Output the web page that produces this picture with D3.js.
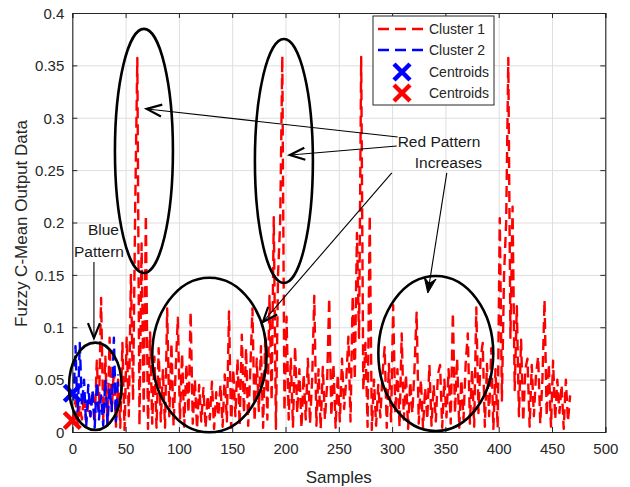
<!DOCTYPE html>
<html>
<head>
<meta charset="utf-8">
<script src="https://cdn.jsdelivr.net/npm/d3@7/dist/d3.min.js"></script>
<style>
  html, body { margin: 0; padding: 0; background: #fff; }
  svg { display: block; font-family: "Liberation Sans", Arial, Helvetica, sans-serif; }
</style>
</head>
<body>
<svg id="chart" width="630" height="487"></svg>
<script>
// Outputs are recorded on every second sample, starting at sample 1
const sampleStep = 2;

// Fuzzy C-Mean output, cluster 1 (samples 1, 3, ..., 467)
const cluster1 = [
  0.010, 0.030, 0.008, 0.025, 0.012, 0.035, 0.010, 0.028, 0.015, 0.040,
  0.008, 0.068, 0.020, 0.128, 0.012, 0.072, 0.006, 0.090, 0.020, 0.060,
  0.005, 0.050, 0.004, 0.085, 0.002, 0.090, 0.015, 0.150, 0.030, 0.215,
  0.357, 0.006, 0.180, 0.020, 0.207, 0.003, 0.095, 0.008, 0.072, 0.004,
  0.080, 0.010, 0.060, 0.004, 0.118, 0.015, 0.085, 0.006, 0.060, 0.109,
  0.012, 0.075, 0.005, 0.065, 0.018, 0.115, 0.008, 0.050, 0.003, 0.045,
  0.010, 0.042, 0.004, 0.035, 0.012, 0.048, 0.003, 0.038, 0.015, 0.045,
  0.005, 0.055, 0.010, 0.115, 0.004, 0.060, 0.015, 0.070, 0.006, 0.093,
  0.018, 0.080, 0.006, 0.060, 0.118, 0.010, 0.070, 0.020, 0.082, 0.004,
  0.090, 0.012, 0.130, 0.030, 0.205, 0.003, 0.150, 0.200, 0.359, 0.020,
  0.110, 0.012, 0.070, 0.005, 0.082, 0.018, 0.060, 0.004, 0.055, 0.012,
  0.070, 0.008, 0.050, 0.130, 0.006, 0.060, 0.003, 0.062, 0.012, 0.045,
  0.128, 0.015, 0.065, 0.004, 0.055, 0.010, 0.070, 0.022, 0.050, 0.091,
  0.010, 0.130, 0.050, 0.190, 0.090, 0.358, 0.040, 0.085, 0.005, 0.207,
  0.002, 0.050, 0.006, 0.045, 0.014, 0.055, 0.081, 0.004, 0.065, 0.010,
  0.121, 0.018, 0.060, 0.005, 0.094, 0.012, 0.055, 0.003, 0.048, 0.018,
  0.060, 0.114, 0.008, 0.050, 0.004, 0.042, 0.012, 0.064, 0.006, 0.045,
  0.010, 0.055, 0.064, 0.004, 0.050, 0.014, 0.060, 0.008, 0.114, 0.018,
  0.070, 0.004, 0.050, 0.012, 0.065, 0.094, 0.008, 0.060, 0.005, 0.119,
  0.018, 0.070, 0.085, 0.005, 0.065, 0.015, 0.080, 0.003, 0.060, 0.004,
  0.204, 0.030, 0.150, 0.200, 0.357, 0.090, 0.215, 0.040, 0.120, 0.015,
  0.088, 0.010, 0.060, 0.070, 0.005, 0.064, 0.015, 0.055, 0.072, 0.008,
  0.050, 0.126, 0.015, 0.065, 0.005, 0.068, 0.012, 0.050, 0.018, 0.045,
  0.003, 0.050, 0.010, 0.035
];

// Fuzzy C-Mean output, cluster 2 (samples 1, 3, ..., 43)
const cluster2 = [
  0.030, 0.082, 0.012, 0.085, 0.025, 0.050, 0.005, 0.045, 0.015, 0.040,
  0.004, 0.048, 0.012, 0.035, 0.006, 0.050, 0.008, 0.042, 0.020, 0.090,
  0.010, 0.055
];

// Cluster centroids [sample, value]
const centroid1 = [0, 0.011];
const centroid2 = [0, 0.037];

// Axis ticks and labels
const xTicks = [0, 50, 100, 150, 200, 250, 300, 350, 400, 450, 500];
const xTickLabels = ["0", "50", "100", "150", "200", "250", "300", "350", "400", "450", "500"];
const yTicks = [0, 0.05, 0.1, 0.15, 0.2, 0.25, 0.3, 0.35, 0.4];
const yTickLabels = ["0", "0.05", "0.1", "0.15", "0.2", "0.25", "0.3", "0.35", "0.4"];

const legendNames = ["Cluster 1", "Cluster 2", "Centroids", "Centroids"];

// Annotation shapes in data units
const ellipses = [
  { cx: 67.2, cy: 0.2683, rx: 27.2, ry: 0.1165 },
  { cx: 198.5, cy: 0.2587, rx: 27.2, ry: 0.1165 },
  { cx: 128.6, cy: 0.0735, rx: 53.6, ry: 0.0738 },
  { cx: 341.0, cy: 0.0749, rx: 53.9, ry: 0.0740 },
  { cx: 21.6, cy: 0.0436, rx: 24.7, ry: 0.0417 }
];
const arrows = [
  { x1: 305.2, y1: 0.2816, x2: 69.8, y2: 0.3084, filled: false },
  { x1: 304.4, y1: 0.2730, x2: 204.1, y2: 0.2644, filled: false },
  { x1: 299.7, y1: 0.2473, x2: 178.8, y2: 0.1050, filled: false },
  { x1: 351.3, y1: 0.2473, x2: 333.5, y2: 0.1327, filled: true },
  { x1: 20.3, y1: 0.1623, x2: 20.3, y2: 0.0897, filled: false }
];
const notes = [
  { text: "Red Pattern", x: 305.2, y: 0.2721 },
  { text: "Increases", x: 321.3, y: 0.2520 },
  { text: "Blue", x: 14.7, y: 0.1881 },
  { text: "Pattern", x: 1.6, y: 0.1671 }
];

const svg = d3.select("#chart");
const plotL = 72.3, plotR = 605.3, plotT = 13, plotB = 432;
const x = d3.scaleLinear().domain([0, 500]).range([plotL, plotR]);
const y = d3.scaleLinear().domain([0, 0.4]).range([plotB, plotT]);
const axisColor = "#262626";

svg.append("rect").attr("width", 630).attr("height", 487).attr("fill", "#fff");

// grid
const grid = svg.append("g").attr("class", "grid");
grid.append("g").attr("transform", `translate(0,${plotB})`)
  .call(d3.axisBottom(x).tickValues(xTicks).tickSize(-(plotB - plotT)).tickFormat(""));
grid.append("g").attr("transform", `translate(${plotL},0)`)
  .call(d3.axisLeft(y).tickValues(yTicks).tickSize(-(plotR - plotL)).tickFormat(""));
grid.selectAll(".domain").remove();
grid.selectAll(".tick line").attr("stroke", "#dedede").attr("stroke-width", 1);

// data lines
svg.append("clipPath").attr("id", "plotclip")
  .append("rect").attr("x", plotL).attr("y", plotT)
  .attr("width", plotR - plotL).attr("height", plotB - plotT);
const line = d3.line().x((d, i) => x(1 + i * sampleStep)).y(d => y(d));
const plot = svg.append("g").attr("clip-path", "url(#plotclip)");
plot.append("path").datum(cluster1).attr("d", line)
  .attr("fill", "none").attr("stroke", "#ff0000").attr("stroke-width", 2.4)
  .attr("stroke-dasharray", "11,6").attr("stroke-linejoin", "round");
plot.append("path").datum(cluster2).attr("d", line)
  .attr("fill", "none").attr("stroke", "#0000ff").attr("stroke-width", 2.4)
  .attr("stroke-dasharray", "11,6").attr("stroke-linejoin", "round");

// axes: inward ticks on all four sides, labels on bottom and left
const axes = svg.append("g").attr("class", "axes");
const gx = axes.append("g").attr("transform", `translate(0,${plotB})`)
  .call(d3.axisBottom(x).tickValues(xTicks).tickSize(-5).tickPadding(11)
    .tickFormat((d, i) => xTickLabels[i]));
const gy = axes.append("g").attr("transform", `translate(${plotL},0)`)
  .call(d3.axisLeft(y).tickValues(yTicks).tickSize(-5).tickPadding(8)
    .tickFormat((d, i) => yTickLabels[i]));
axes.append("g").attr("transform", `translate(0,${plotT})`)
  .call(d3.axisTop(x).tickValues(xTicks).tickSize(-5).tickFormat(""));
axes.append("g").attr("transform", `translate(${plotR},0)`)
  .call(d3.axisRight(y).tickValues(yTicks).tickSize(-5).tickFormat(""));
axes.selectAll(".domain").attr("stroke", axisColor).attr("stroke-width", 1.1);
axes.selectAll(".tick line").attr("stroke", axisColor).attr("stroke-width", 1);
axes.selectAll(".tick text").attr("fill", axisColor).attr("font-size", 15)
  .attr("font-family", "'Liberation Sans', Arial, sans-serif");
gx.selectAll(".tick text").attr("dy", "0.71em");
gy.selectAll(".tick text").attr("dy", "0.35em");

// axis labels
svg.append("text").attr("x", (plotL + plotR) / 2).attr("y", 483)
  .attr("text-anchor", "middle").attr("font-size", 17).attr("fill", axisColor).text("Samples");
svg.append("text").attr("transform", `translate(27,${(plotT + plotB) / 2 + 1}) rotate(-90)`)
  .attr("text-anchor", "middle").attr("font-size", 17).attr("fill", axisColor)
  .text("Fuzzy C-Mean Output Data");

// centroid markers
function cross(g, cx, cy, size, color) {
  const h = size / 2;
  g.append("path")
    .attr("d", `M${cx - h},${cy - h}L${cx + h},${cy + h}M${cx - h},${cy + h}L${cx + h},${cy - h}`)
    .attr("stroke", color).attr("stroke-width", 4.5).attr("fill", "none");
}
cross(svg, x(centroid2[0]), y(centroid2[1]), 16, "#0000ff");
cross(svg, x(centroid1[0]), y(centroid1[1]), 16, "#ff0000");

// annotations
const ann = svg.append("g").attr("class", "annotations");
ann.selectAll("ellipse").data(ellipses).join("ellipse")
  .attr("cx", d => x(d.cx)).attr("cy", d => y(d.cy))
  .attr("rx", d => x(d.cx + d.rx) - x(d.cx)).attr("ry", d => y(d.cy - d.ry) - y(d.cy))
  .attr("fill", "none").attr("stroke", "#000").attr("stroke-width", 2.6);

arrows.forEach(a => {
  const x1 = x(a.x1), y1 = y(a.y1), x2 = x(a.x2), y2 = y(a.y2);
  const ang = Math.atan2(y2 - y1, x2 - x1);
  const L = 15, W = 6;
  const ux = Math.cos(ang), uy = Math.sin(ang);
  const bx = x2 - ux * L, by = y2 - uy * L;
  const p1 = [bx - uy * W, by + ux * W], p2 = [bx + uy * W, by - ux * W];
  const nx = x2 - ux * L * 0.65, ny = y2 - uy * L * 0.65;
  ann.append("line").attr("x1", x1).attr("y1", y1).attr("x2", nx).attr("y2", ny)
    .attr("stroke", "#000").attr("stroke-width", 1.1);
  if (a.filled) {
    ann.append("path").attr("d", `M${x2},${y2}L${p1[0]},${p1[1]}L${nx},${ny}L${p2[0]},${p2[1]}Z`)
      .attr("fill", "#000").attr("stroke", "#000").attr("stroke-width", 1);
  } else {
    ann.append("path").attr("d", `M${p1[0]},${p1[1]}L${x2},${y2}L${p2[0]},${p2[1]}`)
      .attr("fill", "none").attr("stroke", "#000").attr("stroke-width", 2.2)
      .attr("stroke-linejoin", "miter");
    ann.append("line").attr("x1", nx).attr("y1", ny).attr("x2", x2).attr("y2", y2)
      .attr("stroke", "#000").attr("stroke-width", 1.1);
  }
});

ann.selectAll("text").data(notes).join("text")
  .attr("x", d => x(d.x)).attr("y", d => y(d.y))
  .attr("font-size", 15.5).attr("fill", "#1a1a1a").text(d => d.text);

// legend
const lg = svg.append("g").attr("class", "legend").attr("transform", "translate(373,16)");
lg.append("rect").attr("width", 121).attr("height", 89)
  .attr("fill", "#fff").attr("stroke", axisColor).attr("stroke-width", 1);
const rowY = [13, 34, 56, 77];
const swatchColors = ["#ff0000", "#0000ff", "#0000ff", "#ff0000"];
legendNames.forEach((name, i) => {
  const ry = rowY[i];
  if (i < 2) {
    lg.append("line").attr("x1", 5).attr("x2", 52).attr("y1", ry).attr("y2", ry)
      .attr("stroke", swatchColors[i]).attr("stroke-width", 2.6).attr("stroke-dasharray", "11,6");
  } else {
    cross(lg, 29, ry, 16, swatchColors[i]);
  }
  lg.append("text").attr("x", 56).attr("y", ry).attr("dy", "0.35em")
    .attr("font-size", 14).attr("fill", axisColor).text(name);
});
</script>
</body>
</html>
